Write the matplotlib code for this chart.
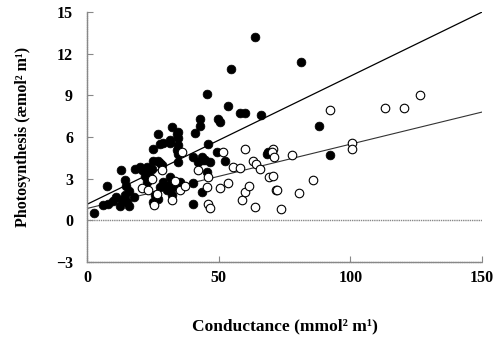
import numpy as np
import matplotlib
matplotlib.use('Agg')
import matplotlib.pyplot as plt

# filled symbols
filled_x = [2.8, 6.2, 7.5, 8.1, 10.0, 10.9, 12.5, 12.9, 13.2, 14.4, 14.5, 14.8, 15.1, 15.8,
            15.8, 17.8, 18.2, 20.1, 20.7, 22.0, 22.6, 22.9, 23.3, 23.9, 24.6, 25.2, 25.2, 25.2,
            25.8, 26.9, 27.0, 27.0, 27.7, 27.7, 27.7, 28.4, 28.7, 29.0, 30.3, 30.9, 31.5, 31.5,
            31.5, 32.2, 32.2, 32.2, 32.8, 34.3, 34.3, 34.5, 34.7, 34.7, 34.7, 34.7, 35.3, 36.6,
            40.4, 40.4, 40.4, 41.0, 42.3, 42.9, 42.9, 43.5, 43.5, 43.9, 44.8, 45.5, 45.6, 46.1,
            46.7, 49.2, 49.8, 50.4, 52.4, 53.4, 54.7, 58.2, 60.1, 63.8, 66.1, 68.4, 68.8, 81.3,
            88.1, 92.3]
filled_y = [0.55, 1.1, 2.45, 1.2, 1.4, 1.65, 1.0, 3.6, 1.45, 2.9, 1.85, 2.5, 1.3, 1.0,
            2.1, 1.7, 3.7, 3.85, 3.6, 3.2, 3.85, 2.75, 3.5, 3.1, 3.7, 4.3, 5.15, 1.35,
            1.8, 6.2, 4.3, 1.5, 5.5, 2.4, 4.1, 3.95, 5.6, 2.75, 2.15, 2.5, 3.1, 5.6,
            5.8, 6.75, 2.85, 1.8, 2.4, 5.05, 6.2, 5.4, 6.35, 5.9, 4.8, 4.2, 2.75, 2.5,
            1.15, 2.65, 4.55, 6.25, 4.2, 6.8, 7.3, 4.55, 2.05, 4.35, 4.35, 3.5, 9.1, 5.5,
            4.2, 4.9, 7.3, 7.1, 4.25, 8.25, 10.9, 7.7, 7.75, 13.2, 7.55, 4.8, 4.9, 11.4,
            6.8, 4.7]

# open symbols
open_x = [20.7, 23.3, 24.5, 25.6, 26.5, 28.4, 32.2, 33.4, 35.3, 35.9, 37.3, 42.3, 45.5,
          46.1, 46.7, 46.1, 50.5, 51.8, 53.4, 55.6, 58.1, 58.7, 60.0, 61.4, 60.0, 63.2,
          64.2, 65.7, 63.8, 69.2, 70.5, 70.8, 70.2, 71.0, 71.7, 72.1, 73.5, 77.7, 80.6,
          85.7, 92.3, 100.8, 100.8, 113.2, 120.5, 126.6]
open_y = [2.35, 2.15, 3.0, 1.1, 1.9, 3.6, 1.45, 2.85, 2.15, 4.9, 2.5, 3.6, 2.4,
          1.2, 0.85, 3.1, 2.3, 4.9, 2.65, 3.85, 3.75, 1.45, 2.05, 2.45, 5.15, 4.3,
          4.05, 3.7, 0.95, 3.15, 3.2, 5.1, 4.95, 4.55, 2.2, 2.15, 0.84, 4.7, 1.95,
          2.9, 7.95, 5.55, 5.1, 8.05, 8.05, 9.05]

# regression lines (intercept, slope)
filled_fit = (1.15, 0.0923)
open_fit = (0.85, 0.0463)

serif = ['Liberation Serif', 'DejaVu Serif']

fig = plt.figure(figsize=(4.97, 3.42), dpi=100)
ax = fig.add_axes([0.175, 0.234, 0.795, 0.731])

ax.axhline(0, color='#888888', lw=1.0, ls=(0, (1, 0.6)), zorder=1)

xs = np.array([0, 150])
ax.plot(xs, filled_fit[0] + filled_fit[1] * xs, color='black', lw=0.9, zorder=2)
ax.plot(xs, open_fit[0] + open_fit[1] * xs, color='#333333', lw=0.8, zorder=2)

ax.scatter(filled_x, filled_y, s=40, c='black', edgecolors='black', linewidths=0.5, zorder=3)
ax.scatter(open_x, open_y, s=38, facecolors='white', edgecolors='black', linewidths=0.8, zorder=4)

ax.set_xlim(0, 150)
ax.set_ylim(-3, 15)
ax.set_xticks([0, 50, 100, 150])
ax.set_yticks([-3, 0, 3, 6, 9, 12, 15])

for s in ['top', 'right']:
    ax.spines[s].set_visible(False)
for s in ['left', 'bottom']:
    ax.spines[s].set_color('#888888')
    ax.spines[s].set_linestyle((0, (1, 0.6)))
    ax.spines[s].set_linewidth(1.0)

ax.tick_params(direction='in', length=4, width=0.8, color='#888888')
ax.tick_params(axis='x', pad=6)
ax.tick_params(axis='y', pad=10)
for lab in ax.get_xticklabels() + ax.get_yticklabels():
    lab.set_family(serif)
    lab.set_fontweight('bold')
    lab.set_fontsize(11.5)

ax.set_xlabel('Conductance (mmol² m¹)', family=serif, fontweight='bold', fontsize=12.5, labelpad=23)
ax.set_ylabel('Photosynthesis (æmol² m¹)', family=serif, fontweight='bold', fontsize=11.5, labelpad=18)

fig.savefig('out.png', dpi=100)
